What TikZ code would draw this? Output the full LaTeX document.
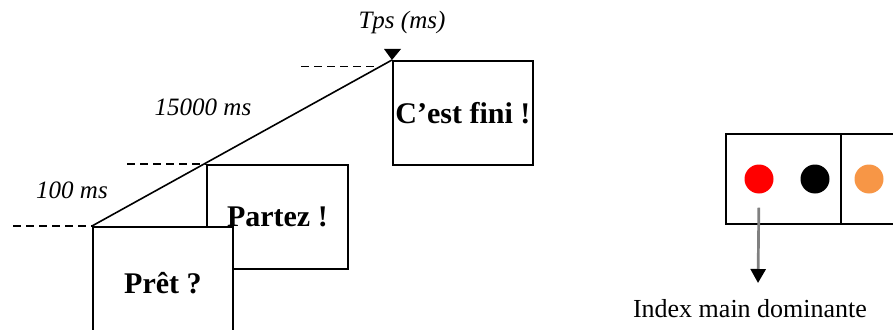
\documentclass[tikz,border=0pt]{standalone}
\usepackage{fontspec}
\setmainfont{Liberation Serif}
\usetikzlibrary{positioning,calc,arrows.meta}
\definecolor{orangeclair}{HTML}{F79646}
\begin{document}
\begin{tikzpicture}
	[x=1pt,y=-1pt,
	ecran/.style={draw,fill=white,line width=1.8pt,minimum width=140pt,anchor=north west,inner sep=0pt,font=\fontsize{30}{36}\selectfont\bfseries},
	duree/.style={font=\fontsize{25}{30}\selectfont\itshape},
	repere/.style={line width=1.5pt,dash pattern=on 8pt off 5pt},
	touche/.style={draw,line width=1.8pt,minimum width=115pt,minimum height=90pt,inner sep=0pt,outer sep=0pt},
	pastille/.style={circle,minimum size=29pt,inner sep=0pt},]
	\useasboundingbox(0,0)rectangle(893,329);
	\clip(0,0)rectangle(893,329);
	% les trois ecrans
	\node[ecran,minimum width=141pt,minimum height=104pt](partez)at(206,164){Partez !};
	\node[ecran,minimum height=112pt](pret)at(92,226){Prêt ?};
	\node[ecran,minimum height=104pt](fini)at(392,60){C’est fini !};
	% axe du temps
	\draw[line width=1.6pt](pret.north west)--coordinate[pos=0.96](haut)(fini.north west);
	\fill($(fini.north west)+(-8,-11)$)--($(fini.north west)+(9,-11)$)--(fini.north west)--cycle;
	\draw[repere]($(pret.north west)+(-79,0)$)--(pret.north west);
	\draw[repere]($(partez.north west)+(-79,0)$)--(partez.north west);
	\draw[repere]($(haut)+(-79,0)$)--(haut);
	\node[duree](tps)at(402,22){Tps (ms)};
	\node[duree](t2)at(203,107){15000 ms};
	\node[duree](t1)at(72,190){100 ms};
	% clavier
	\node[touche,anchor=north west](gauche)at(726,134){};
	\node[touche,right=0pt of gauche](droite){};
	\node[pastille,fill=red](rouge)at(759,179){};
	\node[pastille,fill=black](noir)at(815,179){};
	\node[pastille,fill=orangeclair](orange)at(869,179){};
	\node[font=\fontsize{26}{31}\selectfont](index)at(750,309){Index main dominante};
	\coordinate(pointe)at(758,283);
	\draw[gray,line width=2.7pt,shorten <=14pt,-{Triangle[width=15pt,length=14pt,color=black]}](rouge.south)--(pointe);
\end{tikzpicture}
\end{document}
